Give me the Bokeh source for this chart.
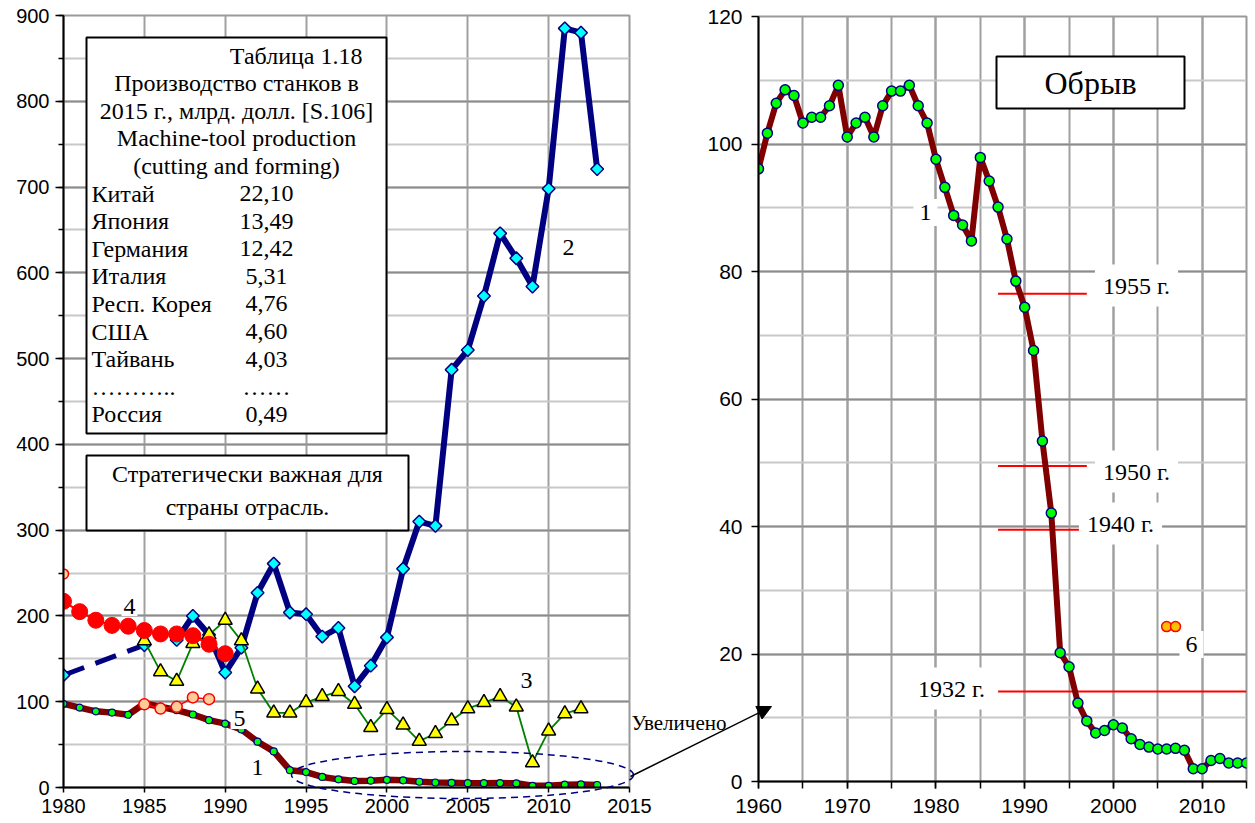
import numpy as np
from bokeh.plotting import figure
from bokeh.layouts import row
from bokeh.models import (Label, BoxAnnotation, SingleIntervalTicker, Range1d, Arrow, NormalHead)
from bokeh.embed import file_html
from bokeh.resources import INLINE

SERIF = "Liberation Serif"
SANS = "Liberation Sans"

# ---------------- data ----------------
# Series 1 (index, 1960-2015; left panel shows 1980-2013)
s1_years = list(range(1960, 2016))
s1_values = [96.1, 101.7, 106.4, 108.5, 107.6, 103.3, 104.2, 104.2, 106.0, 109.2,
             101.1, 103.3, 104.2, 101.1, 106.0, 108.3, 108.3, 109.2, 106.0, 103.3,
             97.6, 93.2, 88.8, 87.3, 84.8, 97.9, 94.2, 90.1, 85.1, 78.5,
             74.4, 67.6, 53.4, 42.1, 20.2, 18.0, 12.3, 9.5, 7.6, 8.0,
             8.9, 8.4, 6.7, 5.8, 5.4, 5.1, 5.1, 5.2, 4.9, 2.0,
             2.0, 3.3, 3.6, 2.9, 2.9, 2.9]
s1_left_first, s1_left_last = 1980, 2013

# Series 2 (first two points joined by a dashed line)
s2_years = [1980, 1985] + list(range(1987, 2014))
s2_values = [131, 166, 172, 200, 178, 134, 163, 227, 261, 204, 202, 176, 186, 118,
             142, 175, 255, 310, 305, 487, 510, 573, 646, 617, 584, 698, 885, 880, 721]

# Series 3
s3_years = list(range(1985, 2013))
s3_values = [171, 135, 124, 168, 178, 195, 171, 115, 87, 87, 99, 106, 112, 97,
             70, 91, 73, 54, 63, 78, 92, 99, 106, 94, 29, 66, 86, 92]

# Series 4
s4_years = list(range(1980, 1991))
s4_values = [217, 205, 195, 189, 188, 183, 179, 179, 177, 167, 156]
s4_extra_years = [1980]
s4_extra_values = [249]

# Series 5
s5_years = [1985, 1986, 1987, 1988, 1989]
s5_values = [97, 92, 94, 105, 103]

# Series 6 (right panel)
s6_years = [2006, 2007]
s6_values = [24.3, 24.3]

# reference levels (right panel)
level_labels = ["1955 г.", "1950 г.", "1940 г.", "1932 г."]
level_values = [76.5, 49.5, 39.5, 14.1]

# table 1.18
table_header = ["Таблица 1.18", "Производство станков в", "2015 г., млрд. долл. [S.106]",
                "Machine-tool production", "(cutting and forming)"]
countries = ["Китай", "Япония", "Германия", "Италия", "Респ. Корея", "США", "Тайвань", "Россия"]
country_values = [22.10, 13.49, 12.42, 5.31, 4.76, 4.60, 4.03, 0.49]

# ---------------- pixel <-> data helpers for annotations ----------------
def lx(px): return 1980 + (px - 63) * 35 / 566
def ly(py): return (787 - py) * 900 / 772
def rx(px): return 1960 + (px - 758) * 55 / 488
def ry(py): return (781 - py) * 120 / 765


def style(p, xint, xminor, yint, yminor, fs, ystand, xstand, ytick, xtick, yminor_out):
    xt = SingleIntervalTicker(interval=xint, num_minor_ticks=xminor)
    yt = SingleIntervalTicker(interval=yint, num_minor_ticks=yminor)
    p.xaxis[0].ticker = xt
    p.yaxis[0].ticker = yt
    p.xgrid[0].ticker = xt
    p.ygrid[0].ticker = yt
    for ax in (p.xaxis[0], p.yaxis[0]):
        ax.axis_line_color = "black"
        ax.axis_line_width = 2
        ax.major_tick_line_color = "black"
        ax.major_tick_line_width = 1.5
        ax.minor_tick_line_color = "black"
        ax.minor_tick_line_width = 1.5
        ax.major_tick_in = 0
        ax.minor_tick_in = 0
        ax.major_label_text_font = SANS
        ax.major_label_text_font_size = fs
        ax.major_label_text_color = "black"
    p.yaxis.major_label_standoff = ystand
    p.xaxis.major_label_standoff = xstand
    p.yaxis.major_tick_out = ytick
    p.xaxis.major_tick_out = xtick
    p.yaxis.minor_tick_out = yminor_out
    p.xgrid.grid_line_color = "#a0a0a0"
    p.xgrid.grid_line_width = 2
    p.ygrid.grid_line_color = "#8c8c8c"
    p.ygrid.grid_line_width = 2
    p.ygrid.minor_grid_line_color = "#c8c8c8"
    p.ygrid.minor_grid_line_width = 2
    p.outline_line_color = "#999999"
    p.outline_line_width = 2


def add_label(p, x, y, text, size="24px", align="center", bg=None, pad=0):
    lab = Label(x=x, y=y, text=text, text_font=SERIF, text_font_size=size,
                text_align=align, text_baseline="middle", text_color="black")
    if bg:
        lab.background_fill_color = bg
        lab.padding = pad
    p.add_layout(lab)


def add_box(p, left, right, top, bottom):
    p.add_layout(BoxAnnotation(left=left, right=right, top=top, bottom=bottom,
                               fill_color="white", fill_alpha=1,
                               line_color="black", line_alpha=1, line_width=2))


# ================= LEFT PANEL =================
L = figure(width=735, height=822, x_range=Range1d(1980, 2015), y_range=Range1d(0, 900),
           output_backend="svg", toolbar_location=None, margin=(0, 0, 0, 0), frame_align=False,
           min_border_left=63, min_border_right=106, min_border_top=15, min_border_bottom=35)
style(L, 5, 0, 100, 2, "20px", 6, 6, 8, 5, 5)
L.xaxis.minor_tick_line_color = None

i0 = s1_years.index(s1_left_first)
i1 = s1_years.index(s1_left_last) + 1
L.line(s1_years[i0:i1], s1_values[i0:i1], line_color="#800000", line_width=6.5, line_join="round")
L.scatter(s1_years[i0:i1], s1_values[i0:i1], size=7, fill_color="#00ff00",
          line_color="#000080", line_width=1.2)

L.line(s5_years, s5_values, line_color="#ff0000", line_width=1.5)
L.scatter(s5_years, s5_values, size=11, fill_color="#ffcc99", line_color="#ff0000", line_width=1.5)
L.scatter(s4_extra_years, s4_extra_values, size=10, fill_color="#ffcc99",
          line_color="#ff0000", line_width=1.5)

L.line(s2_years[:2], s2_values[:2], line_color="#000080", line_width=5, line_dash="22 12")
L.line(s2_years[2:], s2_values[2:], line_color="#000080", line_width=6, line_join="round")
L.scatter(s2_years, s2_values, marker="square", angle=np.pi / 4, size=9,
          fill_color="#00ffff", line_color="#000080", line_width=1.5)

L.line(s3_years, s3_values, line_color="#008000", line_width=1.8)
L.scatter(s3_years, s3_values, marker="triangle", size=14, fill_color="#ffff00",
          line_color="black", line_width=1.5)

L.line(s4_years, s4_values, line_color="#ff0000", line_width=2)
L.scatter(s4_years, s4_values, size=16, fill_color="#ff0000", line_color="#ff0000")

# table box
add_box(L, lx(86), lx(386), ly(37), ly(433))
step = 27.6
add_label(L, lx(362), ly(55), table_header[0], align="right")
for k, txt in enumerate(table_header[1:], start=1):
    add_label(L, lx(236), ly(55 + step * k), txt)
rows = list(zip(countries, country_values))
rows_txt = [(c, f"{v:.2f}".replace(".", ",")) for c, v in rows[:-1]] + [("………..", "……")] + \
           [(rows[-1][0], f"{rows[-1][1]:.2f}".replace(".", ","))]
for k, (c, v) in enumerate(rows_txt):
    yy = 55 + step * (5 + k)
    add_label(L, lx(91), ly(yy), c, align="left")
    add_label(L, lx(266), ly(yy), v)

# strategy box
add_box(L, lx(86), lx(408), ly(455), ly(530))
add_label(L, lx(247), ly(473), "Стратегически важная для")
add_label(L, lx(247), ly(506), "страны отрасль.")

add_label(L, lx(129), ly(606), "4", bg="white", pad=2)
add_label(L, lx(239), ly(718), "5", bg="white", pad=3)
add_label(L, lx(257), ly(767), "1")
add_label(L, lx(568), ly(247), "2", bg="white", pad=8)
add_label(L, lx(526), ly(680), "3", bg="white", pad=8)

# ================= RIGHT PANEL =================
R = figure(width=627, height=822, x_range=Range1d(1960, 2015), y_range=Range1d(0, 120),
           output_backend="svg", toolbar_location=None, margin=(0, 0, 0, -110),
           border_fill_color=None, frame_align=False,
           min_border_left=133, min_border_right=6, min_border_top=16, min_border_bottom=41)
style(R, 10, 2, 20, 2, "21px", 9, 10, 7, 7, 0)
R.xaxis.minor_tick_out = 7
R.xgrid.minor_grid_line_color = "#a0a0a0"
R.xgrid.minor_grid_line_width = 2

level_x0 = [1987, 1987, 1987, 1987]
level_x1 = [1997, 1997, 1996.5, 2015]
R.segment(level_x0, level_values, level_x1, level_values, line_color="#ff0000", line_width=2)

R.line(s1_years, s1_values, line_color="#800000", line_width=6, line_join="round")
R.scatter(s1_years, s1_values, size=10, fill_color="#00ff00", line_color="#000080", line_width=1.5)
R.scatter(s6_years, s6_values, size=10, fill_color="#ffc000", line_color="#ff0000", line_width=1.5)

add_box(R, rx(996), rx(1184), ry(56), ry(108))
add_label(R, rx(1090), ry(82), "Обрыв", size="32px")

level_px = [(1136, 285), (1136, 471), (1120, 523), (951, 688)]
for txt, (px, py) in zip(level_labels, level_px):
    add_label(R, rx(px), ry(py), txt, bg="white", pad=8)

add_label(R, rx(925), ry(212), "1", bg="white", pad=6)
add_label(R, rx(1191), ry(644), "6", bg="white", pad=6)

# ================= OVERLAY (ellipse, arrow, caption) in left-panel units =================
OX0, OX1, OY0, OY1 = 280, 780, 690, 805
A = figure(width=OX1 - OX0, height=OY1 - OY0,
           x_range=Range1d(lx(OX0), lx(OX1)), y_range=Range1d(ly(OY1), ly(OY0)),
           output_backend="svg", toolbar_location=None, frame_align=False,
           x_axis_location=None, y_axis_location=None,
           margin=(OY0, 0, 0, OX0 - 1252),
           min_border=0, min_border_left=0, min_border_right=0, min_border_top=0,
           min_border_bottom=0, border_fill_color=None, background_fill_color=None,
           outline_line_color=None)
A.grid.visible = False
A.ellipse(x=[lx(462)], y=[ly(774.5)], width=[342 * 35 / 566], height=[47 * 900 / 772],
          fill_color=None, line_color="#000080", line_width=1.5, line_dash="7 5")
A.add_layout(Arrow(x_start=lx(630), y_start=ly(776), x_end=lx(771), y_end=ly(706),
                   line_color="black", line_width=1.5,
                   end=NormalHead(size=14, fill_color="black", line_color="black")))
add_label(A, lx(631), ly(722), "Увеличено", size="21px", align="left")

page = row(L, R, A)
open("out.html", "w").write(file_html(page, INLINE))
